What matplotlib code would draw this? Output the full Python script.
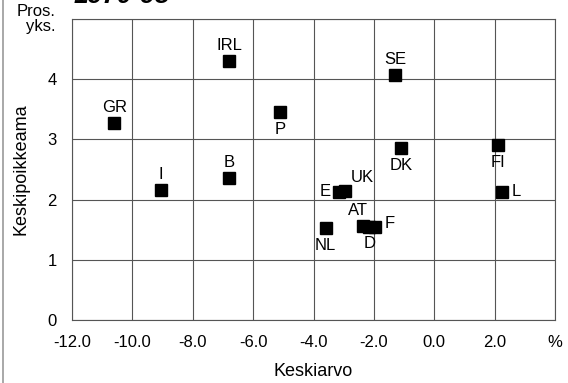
import matplotlib.pyplot as plt
from matplotlib.lines import Line2D

plt.rcParams.update({
    "font.family": "Liberation Sans",
    "font.size": 12,
    "axes.unicode_minus": False,
})

# maat: keskiarvo (%) ja keskipoikkeama (pros. yks.)
maat = ["GR", "IRL", "SE", "P", "DK", "FI", "B", "I",
        "E", "UK", "AT", "D", "F", "NL", "L"]
keskiarvo = [-10.6, -6.8, -1.3, -5.1, -1.1, 2.1, -6.8, -9.05,
             -3.15, -2.95, -2.35, -2.15, -1.95, -3.6, 2.25]
keskipoikkeama = [3.27, 4.30, 4.07, 3.45, 2.86, 2.91, 2.36, 2.16,
                  2.13, 2.15, 1.56, 1.55, 1.55, 1.53, 2.13]

# tekstin siirto pisteistä (x, y, ha, va)
siirto = {
    "GR": (0, 6, "center", "bottom"), "IRL": (0, 6, "center", "bottom"),
    "SE": (0, 6, "center", "bottom"), "P": (0, -7, "center", "top"),
    "DK": (0, -7, "center", "top"), "FI": (0, -7, "center", "top"),
    "B": (0, 6, "center", "bottom"), "I": (0, 6, "center", "bottom"),
    "E": (-6, 0, "right", "center"), "UK": (4, 4, "left", "bottom"),
    "AT": (-4, 6, "center", "bottom"), "D": (0, -7, "center", "top"),
    "F": (7, 2, "left", "center"), "NL": (0, -7, "center", "top"),
    "L": (7, 0, "left", "center"),
}

xtiks = [-12, -10, -8, -6, -4, -2, 0, 2]

fig = plt.figure(figsize=(5.68, 3.83), dpi=100)
ax = fig.add_axes([72/568, 1 - 320/383, 483/568, 301/383])

ax.plot(keskiarvo, keskipoikkeama, "s", color="black", ms=8.5, zorder=3)
for m, x, y in zip(maat, keskiarvo, keskipoikkeama):
    dx, dy, ha, va = siirto[m]
    ax.annotate(m, (x, y), xytext=(dx, dy), textcoords="offset points",
                ha=ha, va=va, fontsize=12)

ax.set_xlim(-12, 4)
ax.set_ylim(0, 5)
ax.set_xticks(xtiks + [4])
ax.set_xticklabels([f"{v:.1f}" for v in xtiks] + ["%"])
ax.set_yticks([0, 1, 2, 3, 4, 5])
ax.set_yticklabels(["0", "1", "2", "3", "4", ""])
ax.tick_params(length=0, labelsize=12)
ax.tick_params(axis="x", pad=11)
ax.tick_params(axis="y", pad=11)
ax.grid(True, color="#555555", lw=0.8)
for s in ax.spines.values():
    s.set_color("#555555")
    s.set_linewidth(0.8)

ax.set_xlabel("Keskiarvo", fontsize=13, labelpad=9)
ax.set_ylabel("Keskipoikkeama", fontsize=13, labelpad=13)
fig.text(56/568, 1 - 4/383, "Pros.\nyks.", ha="right", va="top", fontsize=12,
         linespacing=1.0)
# otsikko on kuvassa lähes kokonaan leikkautunut yläreunan yli
fig.text(74/568, 1 - 3/383, "1970-95", ha="left", va="baseline", fontsize=19,
         fontweight="bold", fontstyle="italic")
fig.add_artist(Line2D([3/568, 3/568], [0, 1], color="#999999", lw=1.2))

fig.savefig("out.png", dpi=100)
